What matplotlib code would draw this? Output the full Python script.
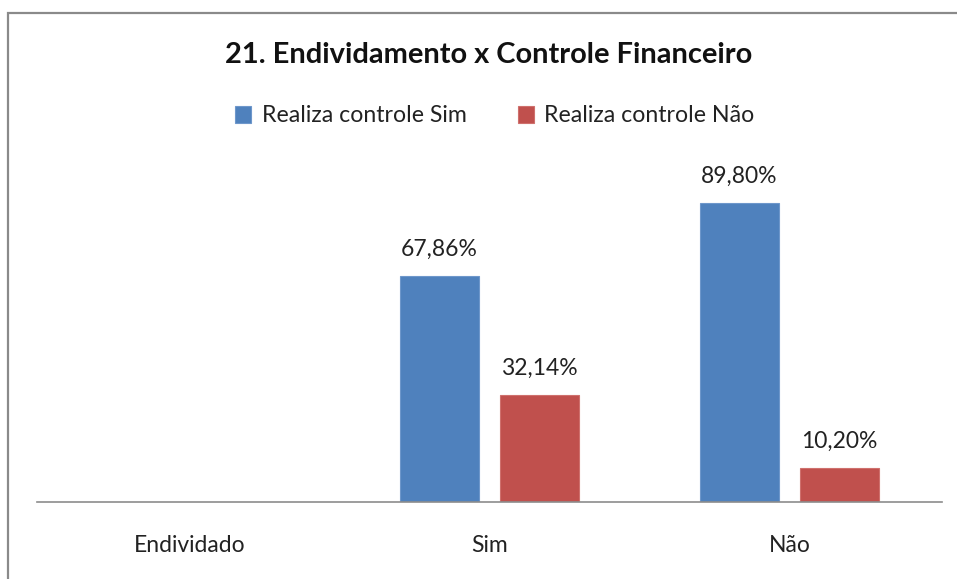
import numpy as np
import matplotlib
matplotlib.use("Agg")
import matplotlib.pyplot as plt
from matplotlib.patches import Rectangle

plt.rcParams['font.family'] = ['Lato', 'DejaVu Sans']

# data
categories = ['Endividado', 'Sim', 'Não']
controle_sim = [np.nan, 67.86, 89.80]
controle_nao = [np.nan, 32.14, 10.20]
series_names = ['Realiza controle Sim', 'Realiza controle Não']

W, H = 957, 579
fig = plt.figure(figsize=(W / 100, H / 100), dpi=100)
ax = fig.add_axes([37 / W, (H - 502) / H, 905 / W, 333 / H])

x = np.arange(len(categories))
bw = 0.263
off = 0.1667
b1 = ax.bar(x - off, controle_sim, bw, color='#4F81BD', edgecolor='#6E97CB', linewidth=0.8,
            label=series_names[0])
b2 = ax.bar(x + off, controle_nao, bw, color='#C0504D', edgecolor='#CF706D', linewidth=0.8,
            label=series_names[1])

for bars, vals in [(b1, controle_sim), (b2, controle_nao)]:
    for rect, v in zip(bars, vals):
        if np.isnan(v):
            continue
        ax.annotate(f"{v:.2f}".replace('.', ',') + '%',
                    (rect.get_x() + rect.get_width() / 2, v),
                    xytext=(0, 19), textcoords='offset points',
                    ha='center', va='center', fontsize=16.5, color='#222222')

ax.set_xlim(-0.5083, 2.5083)
ax.set_ylim(0, 100)
ax.set_xticks(x)
ax.set_xticklabels(categories, fontsize=16.5, color='#222222')
ax.tick_params(axis='x', length=0, pad=24)
ax.set_yticks([])
for s in ['top', 'right', 'left']:
    ax.spines[s].set_visible(False)
ax.spines['bottom'].set_color('#8C8C8C')
ax.spines['bottom'].set_linewidth(1.2)

fig.text(489 / W, 1 - 55 / H, '21. Endividamento x Controle Financeiro',
         ha='center', va='center', fontsize=20.9, fontweight='bold', color='#111111')

fig.legend(loc='center', bbox_to_anchor=(495 / W, 1 - 116 / H), ncol=2, frameon=False,
           fontsize=16.7, handlelength=0.7, handleheight=0.7, handletextpad=0.45,
           columnspacing=2.2, labelcolor='#222222')

# outer chart border
fig.patches.append(Rectangle((8 / W, -0.2), 1.2, 1 - 13 / H + 0.2, transform=fig.transFigure,
                             fill=False, edgecolor='#8A8A8A', linewidth=1.6))

fig.savefig('out.png', dpi=100)
